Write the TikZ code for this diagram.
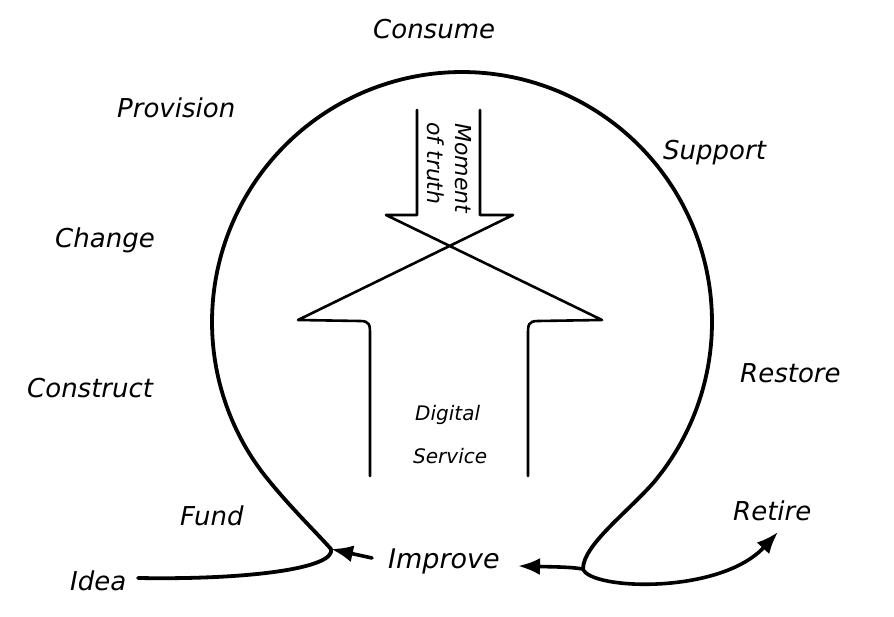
\documentclass[tikz,border=0pt]{standalone}
\usepackage{fontspec}
\setmainfont{DejaVu Sans}
\usetikzlibrary{arrows.meta}
\tikzset{
  loopline/.style={line width=3.8pt, line cap=round, line join=round},
  shapeline/.style={line width=2.6pt, line cap=round, line join=round},
  tiparrow/.style={line width=3.6pt, line cap=round, -{Latex[length=22pt,width=17pt]}},
  lbl/.style={font=\fontsize{26}{30}\selectfont\itshape, inner sep=0pt, anchor=base west},
  smalllbl/.style={font=\fontsize{20}{24}\selectfont\itshape, inner sep=0pt, anchor=base west},
  motlbl/.style={font=\fontsize{22}{26}\selectfont\itshape, inner sep=0pt, anchor=base west, rotate=-90}
}
\begin{document}
\begin{tikzpicture}[x=1pt,y=-1pt]
\useasboundingbox[fill=white] (0,0) rectangle (894,617);

% labels
\node[lbl] (consume) at (373,39) {Consume};
\node[lbl] (provision) at (117,118) {Provision};
\node[lbl] (support) at (663,160) {Support};
\node[lbl] (change) at (55,248) {Change};
\node[lbl] (construct) at (27,397) {Construct};
\node[lbl] (restore) at (740,382) {Restore};
\node[lbl] (fund) at (180,525) {Fund};
\node[lbl] (retire) at (733,520) {Retire};
\node[lbl] (idea) at (70,590) {Idea};
\node[lbl, font=\fontsize{27}{30}\selectfont\itshape] (improve) at (388,568) {Improve};
\node[smalllbl] (digital) at (415,420) {Digital};
\node[smalllbl] (service) at (413,463) {Service};
\node[motlbl] (moment) at (455,123) {Moment};
\node[motlbl] (truth) at (427,122) {of truth};

% key points
\coordinate (ideaend) at (138,578);
\coordinate (cuspL) at (331,549);
\coordinate (cuspR) at (583,569);
\coordinate (retiretip) at (778,532);
\coordinate (improvetip) at (518,566);
\coordinate (improvestart) at (372,558);

% main loop
\draw[loopline] (ideaend) .. controls (250,580) and (336,568) .. (cuspL)
  .. controls (312,528) and (286,503) .. (261.0,470.7)
  -- plot[smooth, domain=143.5:399.6, samples=80] ({462+250*cos(\x)},{322+250*sin(\x)})
  .. controls (628,512) and (583,545) .. (cuspR);
\draw[tiparrow] (cuspR) .. controls (590,590) and (720,595) .. (retiretip);
\draw[tiparrow] (cuspR) .. controls (570,567) and (560,567) .. (improvetip);
\draw[tiparrow] (improvestart) -- (cuspL);

% crossed arrows
\draw[shapeline] (417,110) -- (417,215) -- (386,215) -- (602,320) -- (538,321)
  .. controls (528,321) and (528,325) .. (528,335) -- (528,476);
\draw[shapeline] (480,110) -- (480,215) -- (513,215) -- (298,320) -- (360,321)
  .. controls (370,321) and (370,325) .. (370,335) -- (370,476);
\end{tikzpicture}
\end{document}
